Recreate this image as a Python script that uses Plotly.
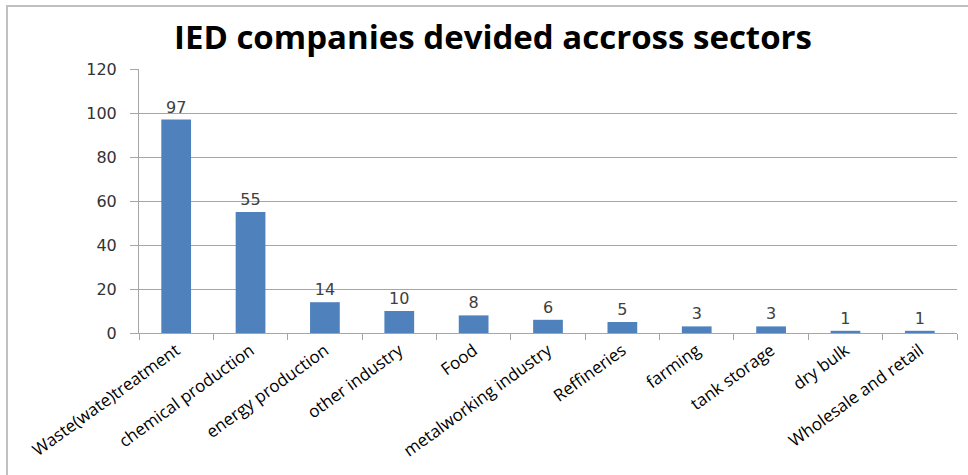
import plotly.graph_objects as go

categories = ["Waste(wate)treatment", "chemical production", "energy production",
              "other industry", "Food", "metalworking industry", "Reffineries",
              "farming", "tank storage", "dry bulk", "Wholesale and retail"]
values = [97, 55, 14, 10, 8, 6, 5, 3, 3, 1, 1]
y_ticks = [0, 20, 40, 60, 80, 100, 120]

W, H = 968, 475
L, R, T, B = 139, 11, 69, 142
pw, ph = W - L - R, H - T - B

fig = go.Figure(go.Bar(
    x=categories, y=values, marker_color="#4F81BD",
    marker_line_width=0,
    text=[str(v) for v in values], textposition="outside",
    textfont=dict(family="DejaVu Sans", size=16, color="#404040"),
    cliponaxis=False,
))

fig.update_layout(
    width=W, height=H, margin=dict(l=L, r=R, t=T, b=B),
    paper_bgcolor="white", plot_bgcolor="white",
    bargap=0.6, showlegend=False,
    title=dict(text="<b>IED companies devided accross sectors</b>",
               x=(493) / W, xanchor="center", y=1 - 37 / H, yanchor="middle",
               font=dict(family="Open Sans", size=33, color="black")),
    xaxis=dict(tickangle=-36, tickfont=dict(family="Open Sans", size=17, color="black"),
               showline=True, linecolor="#A6A6A6", linewidth=1, automargin=False,
               ticks="outside", tickson="boundaries", ticklen=6, tickcolor="#A6A6A6",
               showgrid=False),
    yaxis=dict(range=[0, 120], tickvals=y_ticks, automargin=False,
               tickfont=dict(family="DejaVu Sans", size=16, color="#333333"),
               showline=True, linecolor="#A6A6A6", linewidth=1,
               ticks="outside", ticklen=8, tickcolor="#A6A6A6", ticklabelstandoff=10,
               showgrid=True, gridcolor="#A6A6A6", gridwidth=1, zeroline=False),
    shapes=[dict(type="rect", xref="paper", yref="paper",
                 x0=(7 - L) / pw, x1=(W + 10 - L) / pw,
                 y0=-(H + 10 - (H - B)) / ph, y1=(H - B - 6) / ph,
                 line=dict(color="#C0C0C0", width=2), layer="below")],
)

fig.write_html("out.html")
